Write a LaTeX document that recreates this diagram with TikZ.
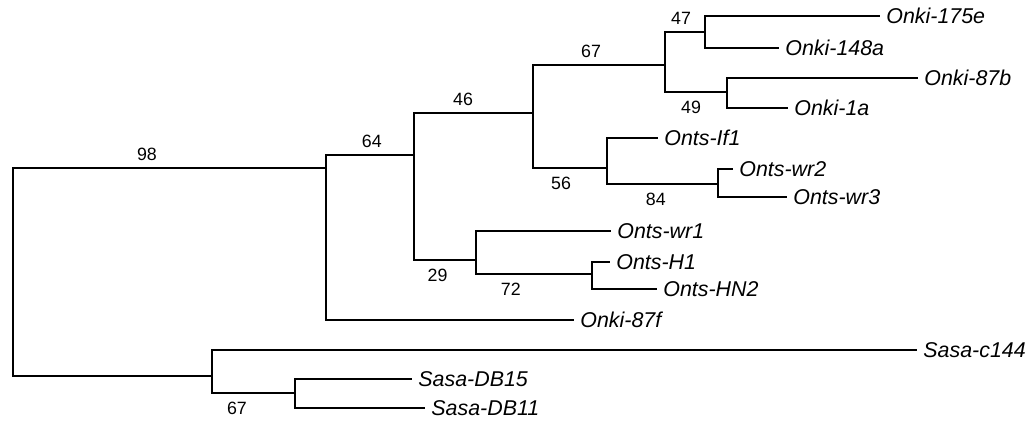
\documentclass[tikz,border=0pt]{standalone}
\usepackage{fontspec}
\setmainfont{Liberation Sans}
\usepackage{tikz}
\usetikzlibrary{positioning}
\tikzset{
    branch/.style={line width=1.2pt},
    taxon/.style={anchor=west,font=\fontsize{10.7}{12}\selectfont\itshape,inner xsep=3pt,inner ysep=0pt,text height=0.716em,text depth=0pt},
    boot/.style={font=\fontsize{8.9}{10}\selectfont,inner xsep=0pt,inner ysep=3.2pt,text height=0.716em,text depth=0pt}
}

\begin{document}
\begin{tikzpicture}[x=0.5pt,y=-0.5pt]
    \useasboundingbox (0,0) rectangle (1031,422);
    \coordinate (root) at (13,270);
    \coordinate (nA) at (326,168);
    \coordinate (nB) at (414,155);
    \coordinate (nF) at (533,113);
    \coordinate (nG) at (665,65);
    \coordinate (nH) at (705,32);
    \coordinate (nI) at (727,92);
    \coordinate (nJ) at (607,168);
    \coordinate (nK) at (718,184);
    \coordinate (nC) at (476,260);
    \coordinate (nL) at (592,274);
    \coordinate (nD) at (212,376);
    \coordinate (nE) at (295,393);

    \node[taxon] (ki175e) at (880,16) {Onki-175e};
    \node[taxon] (ki148a) at (779,48) {Onki-148a};
    \node[taxon] (ki87b) at (918,78) {Onki-87b};
    \node[taxon] (ki1a) at (788,108) {Onki-1a};
    \node[taxon] (tsIf1) at (658,138) {Onts-If1};
    \node[taxon] (tswr2) at (733,169) {Onts-wr2};
    \node[taxon] (tswr3) at (787,197) {Onts-wr3};
    \node[taxon] (tswr1) at (611,231) {Onts-wr1};
    \node[taxon] (tsH1) at (610,262) {Onts-H1};
    \node[taxon] (tsHN2) at (657,289) {Onts-HN2};
    \node[taxon] (ki87f) at (574,320) {Onki-87f};
    \node[taxon] (sac144) at (917,350) {Sasa-c144};
    \node[taxon] (saDB15) at (412,379) {Sasa-DB15};
    \node[taxon] (saDB11) at (425,408) {Sasa-DB11};

    \draw[branch] (root) |- (nA) node[boot,pos=0.714,above] {98};
    \draw[branch] (root) |- (nD);
    \draw[branch] (nA) |- (nB) node[boot,pos=0.76,above] {64};
    \draw[branch] (nA) |- (ki87f);
    \draw[branch] (nB) |- (nF) node[boot,pos=0.706,above] {46};
    \draw[branch] (nB) |- (nC) node[boot,pos=0.69,below] {29};
    \draw[branch] (nF) |- (nG) node[boot,pos=0.72,above] {67};
    \draw[branch] (nF) |- (nJ) node[boot,pos=0.69,below] {56};
    \draw[branch] (nG) |- (nH) node[boot,pos=0.70,above] {47};
    \draw[branch] (nG) |- (nI) node[boot,pos=0.71,below] {49};
    \draw[branch] (nH) |- (ki175e);
    \draw[branch] (nH) |- (ki148a);
    \draw[branch] (nI) |- (ki87b);
    \draw[branch] (nI) |- (ki1a);
    \draw[branch] (nJ) |- (tsIf1);
    \draw[branch] (nJ) |- (nK) node[boot,pos=0.72,below] {84};
    \draw[branch] (nK) |- (tswr2);
    \draw[branch] (nK) |- (tswr3);
    \draw[branch] (nC) |- (tswr1);
    \draw[branch] (nC) |- (nL) node[boot,pos=0.65,below] {72};
    \draw[branch] (nL) |- (tsH1);
    \draw[branch] (nL) |- (tsHN2);
    \draw[branch] (nD) |- (sac144);
    \draw[branch] (nD) |- (nE) node[boot,pos=0.65,below] {67};
    \draw[branch] (nE) |- (saDB15);
    \draw[branch] (nE) |- (saDB11);
\end{tikzpicture}
\end{document}
